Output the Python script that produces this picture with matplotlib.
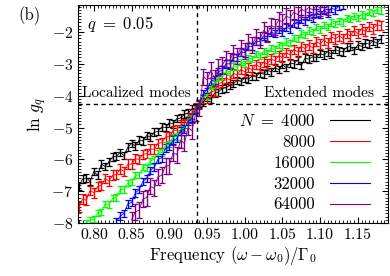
import numpy as np
import matplotlib
matplotlib.use("Agg")
import matplotlib.pyplot as plt
from matplotlib.ticker import MultipleLocator

plt.rcParams['font.family'] = 'serif'
plt.rcParams['font.serif'] = ['cmr10']
plt.rcParams['mathtext.fontset'] = 'cm'
plt.rcParams['axes.formatter.use_mathtext'] = True

step = 0.005

# N = 4000, from 0.78
y4000 = [-6.85, -6.62, -6.58, -6.70, -6.38, -6.50, -6.15, -6.22, -6.08, -5.92,
         -5.90, -5.78, -5.88, -5.62, -5.50, -5.58, -5.40, -5.42, -5.25, -5.30,
         -5.15, -5.12, -4.98, -5.00, -4.85, -4.88, -4.72, -4.70, -4.58, -4.55,
         -4.42, -4.38, -4.28, -4.20, -4.05, -4.10, -3.92, -3.88, -3.78, -3.75,
         -3.68, -3.62, -3.52, -3.55, -3.45, -3.48, -3.38, -3.40, -3.28, -3.32,
         -3.20, -3.25, -3.12, -3.18, -3.02, -3.12, -2.98, -3.00, -2.88, -3.05,
         -2.82, -2.85, -2.78, -2.80, -2.68, -2.72, -2.62, -2.70, -2.55, -2.60,
         -2.62, -2.48, -2.45, -2.58, -2.40, -2.45, -2.35, -2.38, -2.28, -2.35,
         -2.22]
# N = 8000, from 0.78
y8000 = [-7.50, -7.25, -7.28, -6.98, -7.05, -6.85, -6.82, -6.60, -6.68, -6.50,
         -6.48, -6.30, -6.38, -6.15, -6.15, -5.98, -6.00, -5.85, -5.82, -5.68,
         -5.68, -5.50, -5.48, -5.30, -5.28, -5.10, -5.08, -4.92, -4.88, -4.68,
         -4.58, -4.38, -4.28, -4.12, -4.08, -3.88, -3.85, -3.62, -3.58, -3.45,
         -3.50, -3.30, -3.35, -3.18, -3.25, -3.12, -3.20, -3.02, -3.10, -2.95,
         -3.00, -2.85, -2.90, -2.75, -2.80, -2.65, -2.72, -2.55, -2.62, -2.45,
         -2.52, -2.40, -2.50, -2.30, -2.38, -2.25, -2.35, -2.15, -2.22, -2.12,
         -2.20, -2.05, -2.12, -1.95, -2.05, -1.90, -1.98, -1.82, -1.90, -1.78,
         -1.80]
# N = 16000, from 0.79
y16000 = [-8.00, -7.90, -7.88, -7.68, -7.65, -7.40, -7.42, -7.22, -7.20, -6.95,
          -6.95, -6.75, -6.72, -6.50, -6.50, -6.25, -6.28, -6.05, -6.00, -5.80,
          -5.78, -5.55, -5.52, -5.30, -5.28, -5.05, -5.02, -4.75, -4.68, -4.42,
          -4.25, -4.05, -4.00, -3.70, -3.65, -3.40, -3.42, -3.20, -3.25, -3.08,
          -3.10, -2.95, -3.00, -2.82, -2.85, -2.70, -2.75, -2.60, -2.65, -2.50,
          -2.55, -2.40, -2.45, -2.30, -2.35, -2.18, -2.20, -2.05, -2.10, -1.95,
          -2.00, -1.85, -1.92, -1.78, -1.85, -1.70, -1.75, -1.65, -1.70, -1.55,
          -1.60, -1.50, -1.55, -1.45, -1.50, -1.38, -1.40, -1.30, -1.32]
# N = 32000, from 0.83
y32000 = [-7.95, -7.78, -7.70, -7.40, -7.35, -7.05, -6.95, -6.70, -6.60, -6.35,
          -6.25, -6.00, -5.95, -5.65, -5.60, -5.40, -5.35, -5.10, -5.05, -4.80,
          -4.70, -4.42, -4.25, -3.95, -3.80, -3.55, -3.50, -3.25, -3.20, -3.00,
          -3.00, -2.80, -2.80, -2.62, -2.65, -2.45, -2.45, -2.28, -2.30, -2.12,
          -2.15, -2.00, -2.05, -1.92, -2.00, -1.85, -1.90, -1.72, -1.75, -1.60,
          -1.65, -1.50, -1.55, -1.40, -1.45, -1.32, -1.40, -1.25, -1.30, -1.18,
          -1.15]
# N = 64000, from 0.85
y64000 = [-7.90, -7.65, -7.60, -7.25, -7.20, -6.85, -6.90, -6.55, -6.50, -6.20,
          -6.20, -5.80, -5.85, -5.40, -5.50, -5.00, -5.10, -4.55, -4.40, -3.40,
          -3.50, -3.20, -3.45, -3.10, -3.05, -2.85, -2.90, -2.65, -2.75, -2.50,
          -2.60, -2.30, -2.40, -2.15, -2.25, -1.95, -2.05, -1.80, -1.85, -1.62,
          -1.68, -1.50, -1.55, -1.38, -1.45, -1.28, -1.35, -1.22, -1.30, -1.18,
          -1.25, -1.15, -1.20]

sizes = ['4000', '8000', '16000', '32000', '64000']
starts = [0.78, 0.78, 0.79, 0.83, 0.85]
values = [y4000, y8000, y16000, y32000, y64000]
errs = [0.12, 0.15, 0.10, 0.12, 0.25]
colors = ['black', 'red', '#00ff00', 'blue', 'purple']

fig = plt.figure(figsize=(3.9, 2.76), dpi=100)
ax = fig.add_axes([0.2, 0.192, 0.795, 0.79])

for name, x0, y, e, c in zip(sizes, starts, values, errs, colors):
    x = x0 + step * np.arange(len(y))
    ax.errorbar(x, y, yerr=e, color=c, lw=0.6, elinewidth=1.0,
                capsize=2.2, capthick=0.9)
    lab = r'$N\ =\ 4000$' if name == '4000' else name
    ax.plot([], [], color=c, lw=0.8, label=lab)

ax.axvline(0.937, color='black', ls='--', lw=1.0, dashes=(3, 2.5))
ax.axhline(-4.25, color='black', ls='--', lw=1.0, dashes=(3, 2.5))

ax.set_xlim(0.779, 1.19)
ax.set_ylim(-8, -1.15)
ax.xaxis.set_major_locator(MultipleLocator(0.05))
ax.xaxis.set_minor_locator(MultipleLocator(0.005))
ax.yaxis.set_major_locator(MultipleLocator(1))
ax.yaxis.set_minor_locator(MultipleLocator(0.1))
ax.xaxis.set_major_formatter(plt.FuncFormatter(lambda v, p: '%.2f' % v))
ax.tick_params(which='both', direction='in', top=True, right=True, labelsize=11.3)
ax.tick_params(which='major', length=4, width=0.8)
ax.tick_params(which='minor', length=2, width=0.6)

ax.set_xlabel(r'Frequency $(\omega-\omega_0)/\Gamma_0$', fontsize=12, labelpad=2)
ax.set_ylabel(r'$\ln\, g_q$', fontsize=12.5, labelpad=2)

ax.text(0.028, 0.96, r'$q\ =\ 0.05$', transform=ax.transAxes, fontsize=12,
        va='top', ha='left')
ax.text(0.012, -4.15, 'Localized modes', transform=ax.get_yaxis_transform(),
        fontsize=11, va='bottom', ha='left')
ax.text(0.955, -4.15, 'Extended modes', transform=ax.get_yaxis_transform(),
        fontsize=11, va='bottom', ha='right')
fig.text(0.075, 0.945, '(b)', fontsize=12, ha='center', va='center')

leg = ax.legend(loc='lower right', markerfirst=False, frameon=False,
                fontsize=12, handlelength=2.4, handletextpad=0.9,
                labelspacing=0.33, borderaxespad=0.3,
                bbox_to_anchor=(0.98, -0.005))
for t in leg.get_texts():
    t.set_ha('right')

fig.savefig('out.png', dpi=100)
